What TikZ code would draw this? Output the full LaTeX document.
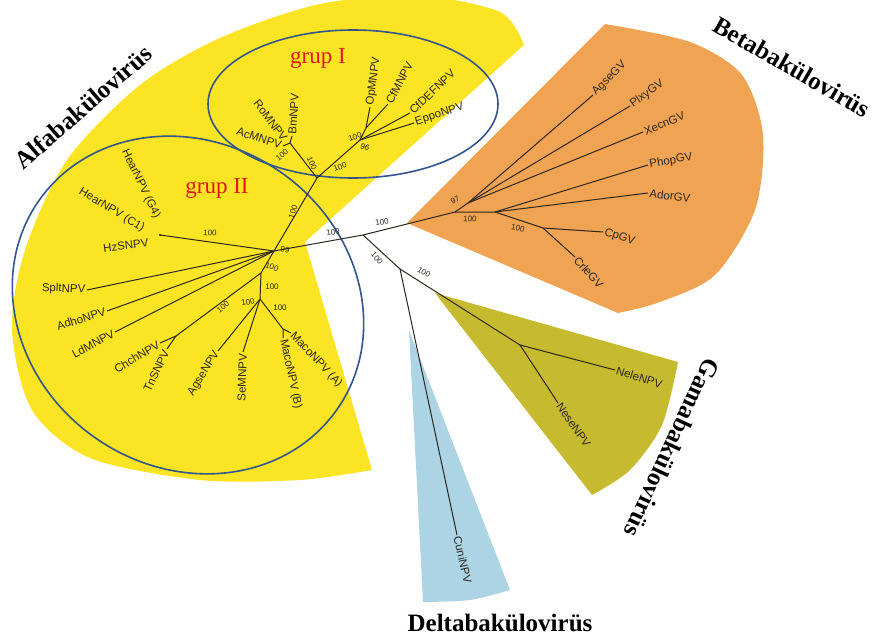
\documentclass[tikz,border=0pt]{standalone}
\usepackage{fontspec}
\setmainfont{Liberation Serif}
\newfontfamily\treefont{Liberation Sans}
\definecolor{alfayellow}{RGB}{250,228,35}
\definecolor{betaorange}{RGB}{240,163,82}
\definecolor{gamaolive}{RGB}{198,186,46}
\definecolor{deltablue}{RGB}{172,212,228}
\definecolor{ringblue}{RGB}{50,85,140}
\definecolor{branch}{RGB}{45,40,30}
\definecolor{grupred}{RGB}{225,25,25}
\begin{document}
\begin{tikzpicture}[x=1pt, y=-1pt,
    br/.style={branch, line width=1pt},
    leaf/.style={font=\treefont\fontsize{11.5}{11.5}\selectfont, text=branch, inner sep=1.5pt},
    boot/.style={font=\treefont\fontsize{8}{8}\selectfont, text=branch, inner sep=0pt},
    clade/.style={font=\bfseries\fontsize{25}{25}\selectfont},
    grup/.style={font=\fontsize{23}{23}\selectfont, text=grupred},
    ring/.style={ringblue, line width=1.6pt}]
\useasboundingbox (0,0) rectangle (874,639);
\begin{scope}
\clip (0,0) rectangle (874,639);
% clade wedges
\fill[alfayellow] (305,242) -- (524,45) -- plot[smooth] coordinates {(524,45) (500,12) (420,-4) (320,4) (220,38) (140,85) (67,160) (25,250) (12,330) (32,410) (90,458) (200,480) (300,480) (372,470)} -- cycle;
\fill[betaorange] (407,223) -- (605,24) -- plot[smooth] coordinates {(605,24) (690,42) (742,75) (763,135) (755,210) (715,275) (660,302) (618,313)} -- cycle;
\fill[gamaolive] (435,293) -- (678,362) -- plot[smooth] coordinates {(678,362) (662,425) (630,470) (592,495)} -- cycle;
\fill[deltablue] (409,330) -- (423,602) -- plot[smooth] coordinates {(423,602) (470,600) (510,590)} -- cycle;
\end{scope}
% group rings
\draw[ring] (353,104) ellipse [x radius=145, y radius=74];
\draw[ring, rotate around={-35:(188,305)}] (188,305) ellipse [x radius=182, y radius=162];
% tree
\coordinate (root) at (363,235);
\coordinate (alfa) at (274,251);
\coordinate (gI) at (317,178);
\coordinate (gIa) at (290,143);
\coordinate (bm) at (292,136);
\coordinate (ro) at (286,141);
\coordinate (ac) at (283,146);
\coordinate (gIb) at (360,140);
\coordinate (gIc) at (366,128);
\coordinate (op) at (370,107);
\coordinate (cf) at (388,104);
\coordinate (cfdef) at (410,113);
\coordinate (eppo) at (414,123);
\coordinate (hz) at (160,235);
\coordinate (splt) at (87,290);
\coordinate (adho) at (107,311);
\coordinate (ldm) at (115,332);
\coordinate (alfaB) at (261,273);
\coordinate (chj) at (176,336);
\coordinate (chch) at (160,343);
\coordinate (tns) at (167,349);
\coordinate (alfaC) at (260,299);
\coordinate (agsenpv) at (218,351);
\coordinate (se) at (243,352);
\coordinate (maco) at (283,329);
\coordinate (macoB) at (283,338);
\coordinate (macoA) at (291,333);
\coordinate (beta) at (455,212);
\coordinate (betaE) at (468,203);
\coordinate (agsegv) at (593,95);
\coordinate (plxy) at (630,106);
\coordinate (xecn) at (643,132);
\coordinate (betaF) at (495,212);
\coordinate (phop) at (648,165);
\coordinate (ador) at (648,193);
\coordinate (betaG) at (543,228);
\coordinate (cp) at (603,232);
\coordinate (crle) at (575,257);
\coordinate (dg) at (400,269);
\coordinate (gam) at (520,345);
\coordinate (nele) at (615,370);
\coordinate (nese) at (558,403);
\coordinate (cuni) at (457,535);
\draw[br] (alfa) -- (root) -- (beta) -- (betaE) -- (agsegv);
\draw[br] (betaE) -- (plxy);
\draw[br] (betaE) -- (xecn);
\draw[br] (beta) -- (betaF) -- (phop);
\draw[br] (betaF) -- (ador);
\draw[br] (betaF) -- (betaG) -- (cp);
\draw[br] (betaG) -- (crle);
\draw[br] (root) -- (dg) -- (gam) -- (nele);
\draw[br] (gam) -- (nese);
\draw[br] (dg) -- (cuni);
\draw[br] (alfa) -- (gI) -- (gIa) -- (bm);
\draw[br] (gIa) -- (ac);
\draw[br] (gI) -- (gIb) -- (eppo);
\draw[br] (gIb) -- (cfdef);
\draw[br] (gIb) -- (gIc) -- (op);
\draw[br] (gIc) -- (cf);
\draw[br] (alfa) -- (hz);
\fill[branch] (hz) circle (1.2);
\draw[br] (alfa) -- (splt);
\draw[br] (alfa) -- (adho);
\draw[br] (alfa) -- (ldm);
\draw[br] (alfa) -- (alfaB) -- (chj) -- (chch);
\draw[br] (chj) -- (tns);
\draw[br] (alfaB) -- (alfaC) -- (agsenpv);
\draw[br] (alfaC) -- (se);
\draw[br] (alfaC) -- (maco) -- (macoB);
\draw[br] (maco) -- (macoA);
% leaf names
\node[leaf, anchor=west, rotate=45] (nAgseGV) at (agsegv) {AgseGV};
\node[leaf, anchor=west, rotate=35] (nPlxyGV) at (plxy) {PlxyGV};
\node[leaf, anchor=west, rotate=22] (nXecnGV) at (xecn) {XecnGV};
\node[leaf, anchor=west, rotate=10] (nPhopGV) at (phop) {PhopGV};
\node[leaf, anchor=west, rotate=-7] (nAdorGV) at (ador) {AdorGV};
\node[leaf, anchor=west, rotate=-17] (nCpGV) at (cp) {CpGV};
\node[leaf, anchor=west, rotate=-48] (nCrleGV) at (crle) {CrleGV};
\node[leaf, anchor=west, rotate=-17] (nNeleNPV) at (nele) {NeleNPV};
\node[leaf, anchor=west, rotate=-55] (nNeseNPV) at (nese) {NeseNPV};
\node[leaf, anchor=west, rotate=-77] (nCuniNPV) at (cuni) {CuniNPV};
\node[leaf, anchor=west, rotate=18] (nEppoNPV) at (eppo) {EppoNPV};
\node[leaf, anchor=west, rotate=44] (nCfDEFNPV) at (cfdef) {CfDEFNPV};
\node[leaf, anchor=west, rotate=62] (nCfMNPV) at (cf) {CfMNPV};
\node[leaf, anchor=west, rotate=82] (nOpMNPV) at (op) {OpMNPV};
\node[leaf, anchor=west, rotate=86] (nBmNPV) at (bm) {BmNPV};
\node[leaf, anchor=east, rotate=-53] (nRoMNPV) at (ro) {RoMNPV};
\node[leaf, anchor=east, rotate=-18] (nAcMNPV) at (ac) {AcMNPV};
\node[leaf, anchor=east, rotate=-64] (nHearGf) at (158,219) {HearNPV (G4)};
\node[leaf, anchor=east, rotate=-31] (nHearCo) at (145,230) {HearNPV (C1)};
\node[leaf, anchor=east, rotate=8] (nHzSNPV) at (150,242) {HzSNPV};
\node[leaf, anchor=east, rotate=-2] (nSpltNPV) at (splt) {SpltNPV};
\node[leaf, anchor=east, rotate=17] (nAdhoNPV) at (adho) {AdhoNPV};
\node[leaf, anchor=east, rotate=28] (nLdMNPV) at (ldm) {LdMNPV};
\node[leaf, anchor=east, rotate=31] (nChchNPV) at (chch) {ChchNPV};
\node[leaf, anchor=east, rotate=64] (nTnSNPV) at (tns) {TnSNPV};
\node[leaf, anchor=east, rotate=58] (nAgseNPV) at (agsenpv) {AgseNPV};
\node[leaf, anchor=east, rotate=88] (nSeMNPV) at (se) {SeMNPV};
\node[leaf, anchor=west, rotate=-78] (nMacoB) at (macoB) {MacoNPV (B)};
\node[leaf, anchor=west, rotate=-47] (nMacoA) at (macoA) {MacoNPV (A)};
% bootstrap values
\foreach \pos/\ang/\val [count=\i] in {{(333,232)}/10/100, {(382,222)}/10/100, {(377,258)}/-50/100,
    {(424,272)}/-30/100, {(455,200)}/30/97, {(470,219)}/-5/100, {(518,228)}/-10/100,
    {(282,155)}/40/100, {(312,163)}/-65/100, {(340,167)}/20/100, {(355,137)}/20/100,
    {(365,147)}/-20/96, {(293,212)}/72/100, {(210,233)}/-5/100, {(285,250)}/-10/99,
    {(272,267)}/-20/100, {(272,287)}/0/100, {(248,302)}/10/100, {(280,308)}/0/100,
    {(223,307)}/40/100}
    \node[boot, rotate=\ang] (bs\i) at \pos {\val};
% group and clade names
\node[grup] (grupI) at (318,58) {grup I};
\node[grup] (grupII) at (217,188) {grup II};
\node[clade, rotate=41] (alfaName) at (83,107) {Alfabakülovirüs};
\node[clade, rotate=-30] (betaName) at (792,67) {Betabakülovirüs};
\node[clade, rotate=-115] (gamaName) at (672,448) {Gamabakülovirüs};
\node[clade] (deltaName) at (500,623) {Deltabakülovirüs};
\end{tikzpicture}
\end{document}
